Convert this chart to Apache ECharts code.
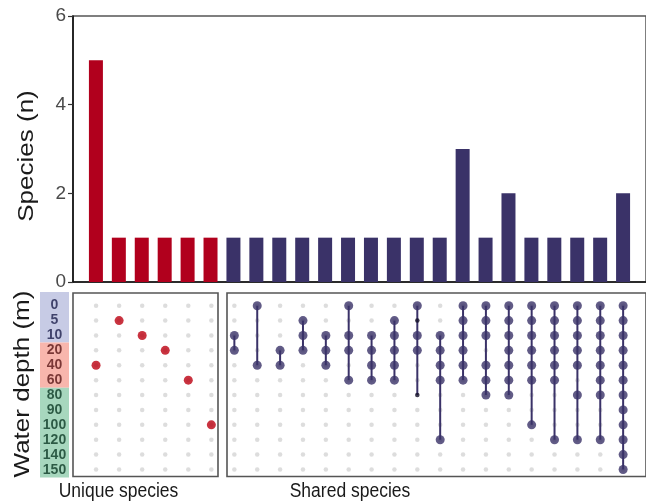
<!DOCTYPE html>
<html>
<head>
<meta charset="utf-8">
<script src="https://cdn.jsdelivr.net/npm/echarts@6/dist/echarts.min.js"></script>
<style>
  html, body { margin: 0; padding: 0; background: #ffffff; }
  #chart { width: 646px; height: 504px; }
</style>
</head>
<body>
<div id="chart"></div>
<script>
// Sampling depths (matrix rows, top to bottom)
const depths = ['0', '5', '10', '20', '40', '60', '80', '90', '100', '120', '140', '150'];

// Depth zones shown as coloured bands behind the row labels
const zoneFirst = ['0', '20', '80'];
const zoneLast = ['10', '60', '150'];
const zoneFill = ['#c7cbe5', '#f8b6ad', '#a7d7be'];
const zoneText = ['#1d1f4c', '#5a1818', '#0e3b27'];

// Species found at a single depth
const uniqueCounts = [5, 1, 1, 1, 1, 1];
const uniqueDepth = ['40', '5', '10', '20', '60', '100'];

// Species shared between depths
const sharedCounts = [1, 1, 1, 1, 1, 1, 1, 1, 1, 1, 3, 1, 2, 1, 1, 1, 1, 2];
const sharedSets = [
  ['10', '20'],
  ['0', '40'],
  ['20', '40'],
  ['5', '10', '20'],
  ['10', '20', '40'],
  ['0', '10', '20', '60'],
  ['10', '20', '40', '60'],
  ['5', '10', '20', '40', '60'],
  ['0', '10', '20'],
  ['10', '20', '40', '60', '120'],
  ['0', '5', '10', '20', '40', '60'],
  ['0', '5', '10', '40', '60', '80'],
  ['0', '5', '10', '20', '40', '60', '80'],
  ['0', '5', '10', '20', '40', '60', '100'],
  ['0', '5', '10', '20', '40', '60', '120'],
  ['0', '5', '10', '20', '40', '80', '120'],
  ['0', '5', '10', '20', '40', '60', '80', '120'],
  ['0', '5', '10', '20', '40', '60', '80', '90', '100', '120', '140', '150']
];
// Small marks on the ninth shared set
const minorSet = 9;
const minorDepths = ['5', '80'];

// Axis ticks of the count panel
const countTicks = [0, 2, 4, 6];

const RED = '#b1001d';
const NAVY = '#3a3268';
const INK = '#1a1a1a';
const FONT = 'Liberation Sans, Arial, sans-serif';

// Layout
const X0 = 73, STEP = 23.06, NCOL = 25;
const TOP_Y = 16, TOP_H = 266;
const M_TOP = 293, M_H = 183.5;
const ROW_MIN = -0.853, ROW_MAX = 11.47;
const U_W = 145;
const S_LEFT = 227;
const FULL_W = STEP * NCOL;

const row = d => depths.indexOf(d);
const nU = uniqueCounts.length;

// Bars
const barData = uniqueCounts.map((v, i) => ({ value: [i + 1, v], itemStyle: { color: RED } }))
  .concat(sharedCounts.map((v, i) => ({ value: [nU + i + 1, v], itemStyle: { color: NAVY } })));

// Background grid dots
const greyU = [], greyS = [];
for (let c = 1; c <= nU; c++) depths.forEach((d, r) => greyU.push([c, r]));
for (let c = nU + 1; c <= nU + sharedCounts.length; c++) depths.forEach((d, r) => greyS.push([c, r]));

const redDots = uniqueDepth.map((d, i) => [i + 1, row(d)]);

const navyDots = [];
const segs = [];
sharedSets.forEach((set, i) => {
  const x = nU + i + 1;
  let rows = set.map(row);
  if (i + 1 === minorSet) rows = rows.concat(minorDepths.map(row));
  set.forEach(d => navyDots.push([x, row(d)]));
  segs.push([x, Math.min(...rows), Math.max(...rows)]);
});
const minorDots = minorDepths.map(d => [nU + minorSet, row(d)]);

// Row labels with zone colouring
const zoneOf = d => {
  const r = row(d);
  for (let z = 0; z < zoneFirst.length; z++) {
    if (r >= row(zoneFirst[z]) && r <= row(zoneLast[z])) return z;
  }
  return 0;
};
const labelData = depths.map((d, r) => ({
  value: [0.5, r, d],
  label: { color: zoneText[zoneOf(d)] }
}));
const zoneAreas = zoneFirst.map((d, z) => [
  { yAxis: z === 0 ? ROW_MIN : row(d) - 0.5, itemStyle: { color: zoneFill[z] } },
  { yAxis: z === zoneFirst.length - 1 ? ROW_MAX + 0.1 : row(zoneLast[z]) + 0.5 }
]);

const hiddenAxis = (extra) => Object.assign({
  type: 'value', show: true,
  axisLine: { show: false }, axisTick: { show: false },
  axisLabel: { show: false }, splitLine: { show: false }
}, extra);

const option = {
  backgroundColor: '#ffffff',
  animation: false,
  grid: [
    { left: X0, top: TOP_Y, width: FULL_W, height: TOP_H, show: true, borderColor: '#555', borderWidth: 1.5 },
    { left: X0, top: M_TOP, width: U_W, height: M_H, show: true, borderColor: '#555', borderWidth: 1.6 },
    { left: S_LEFT, top: M_TOP, width: X0 + FULL_W - S_LEFT, height: M_H, show: true, borderColor: '#555', borderWidth: 1.6 },
    { left: 40, top: M_TOP - 1, width: 29, height: M_H + 2 }
  ],
  xAxis: [
    {
      gridIndex: 0, type: 'value', min: 0, max: NCOL,
      axisLine: { show: true, lineStyle: { color: '#111', width: 1.6 } },
      axisTick: { show: false }, axisLabel: { show: false }, splitLine: { show: false }
    },
    hiddenAxis({ gridIndex: 1, min: 0, max: U_W / STEP }),
    hiddenAxis({ gridIndex: 2, min: (S_LEFT - X0) / STEP, max: NCOL }),
    hiddenAxis({ gridIndex: 3, min: 0, max: 1 })
  ],
  yAxis: [
    {
      gridIndex: 0, type: 'value', min: countTicks[0], max: countTicks[countTicks.length - 1],
      interval: countTicks[1] - countTicks[0],
      axisLine: { show: true, lineStyle: { color: '#111', width: 1.6 } },
      axisTick: { show: true, length: 5, lineStyle: { color: '#333', width: 1.2 } },
      axisLabel: { fontSize: 19, color: '#4a4a4a', margin: 7, fontFamily: FONT },
      splitLine: { show: false }
    },
    hiddenAxis({ gridIndex: 1, inverse: true, min: ROW_MIN, max: ROW_MAX }),
    hiddenAxis({ gridIndex: 2, inverse: true, min: ROW_MIN, max: ROW_MAX }),
    hiddenAxis({ gridIndex: 3, inverse: true, min: ROW_MIN, max: ROW_MAX })
  ],
  series: [
    {
      type: 'bar', xAxisIndex: 0, yAxisIndex: 0, barWidth: 14,
      data: barData, silent: true
    },
    {
      type: 'scatter', xAxisIndex: 1, yAxisIndex: 1, data: greyU,
      symbolSize: 4.5, itemStyle: { color: '#d4d4d4' }, silent: true, z: 1
    },
    {
      type: 'scatter', xAxisIndex: 1, yAxisIndex: 1, data: redDots,
      symbolSize: 9, itemStyle: { color: '#bb0010' }, silent: true, z: 3
    },
    {
      type: 'scatter', xAxisIndex: 2, yAxisIndex: 2, data: greyS,
      symbolSize: 4.5, itemStyle: { color: '#d4d4d4' }, silent: true, z: 1
    },
    {
      type: 'custom', xAxisIndex: 2, yAxisIndex: 2, data: segs,
      encode: { x: 0, y: [1, 2] }, silent: true, z: 2,
      renderItem: (params, api) => {
        const x = api.value(0);
        const a = api.coord([x, api.value(1)]);
        const b = api.coord([x, api.value(2)]);
        return {
          type: 'line',
          shape: { x1: a[0], y1: a[1], x2: b[0], y2: b[1] },
          style: { stroke: NAVY, lineWidth: 2 }
        };
      }
    },
    {
      type: 'scatter', xAxisIndex: 2, yAxisIndex: 2, data: navyDots,
      symbolSize: 9, itemStyle: { color: NAVY }, silent: true, z: 3
    },
    {
      type: 'scatter', xAxisIndex: 2, yAxisIndex: 2, data: minorDots,
      symbolSize: 4.5, itemStyle: { color: '#15122b' }, silent: true, z: 3
    },
    {
      type: 'scatter', xAxisIndex: 3, yAxisIndex: 3, data: labelData,
      symbolSize: 0, silent: true, z: 4,
      label: {
        show: true, position: 'inside',
        formatter: p => p.value[2],
        fontSize: 14, fontWeight: 'bold', fontFamily: FONT
      },
      markArea: { silent: true, data: zoneAreas }
    }
  ],
  graphic: [
    {
      type: 'text', x: 27, y: 156, rotation: Math.PI / 2, scaleY: 0.88,
      style: { text: 'Species (n)', fontSize: 26, fill: INK, align: 'center', verticalAlign: 'middle', fontFamily: FONT }
    },
    {
      type: 'text', x: 23, y: 384, rotation: Math.PI / 2, scaleY: 0.88,
      style: { text: 'Water depth (m)', fontSize: 26, fill: INK, align: 'center', verticalAlign: 'middle', fontFamily: FONT }
    },
    {
      type: 'text', x: 118.5, y: 492, scaleY: 1.12,
      style: { text: 'Unique species', fontSize: 17.5, fill: INK, align: 'center', verticalAlign: 'middle', fontFamily: FONT }
    },
    {
      type: 'text', x: 350, y: 492, scaleY: 1.12,
      style: { text: 'Shared species', fontSize: 17.5, fill: INK, align: 'center', verticalAlign: 'middle', fontFamily: FONT }
    }
  ]
};

const chart = echarts.init(document.getElementById('chart'), null, { renderer: 'canvas' });
chart.setOption(option);
</script>
</body>
</html>
